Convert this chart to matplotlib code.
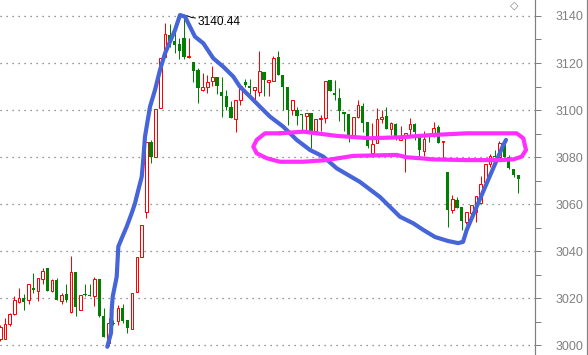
import matplotlib
matplotlib.use("Agg")
import matplotlib.pyplot as plt
from matplotlib.lines import Line2D
from matplotlib.ticker import MultipleLocator, FormatStrFormatter

plt.rcParams['font.family'] = ['Liberation Sans', 'DejaVu Sans']
plt.rcParams['lines.scale_dashes'] = False

opens = [
    3002.4, 3002.7, 3008.8, 3013.3, 3018.4, 3020.1, 3019.2, 3024.1, 3023.0, 3028.2,
    3032.6, 3023.0, 3027.5, 3018.7, 3021.6, 3014.1, 3031.2, 3015.0, 3021.8, 3021.3,
    3020.9, 3028.0, 3012.6, 3001.0, 3009.6, 3010.2, 3015.9, 3010.7, 3007.0, 3022.6,
    3037.6, 3056.6, 3086.5, 3080.2, 3100.7, 3122.4, 3131.9, 3129.4, 3128.0, 3130.5,
    3122.4, 3120.5, 3117.0, 3108.4, 3109.6, 3112.2, 3114.0, 3107.5, 3105.8, 3101.3,
    3096.2, 3104.1, 3111.8, 3110.4, 3108.4, 3107.7, 3116.0, 3111.9, 3112.2, 3122.6,
    3115.0, 3110.0, 3099.9, 3100.1, 3098.2, 3097.3, 3098.7, 3090.9, 3096.2, 3096.6,
    3112.9, 3107.2, 3105.1, 3099.2, 3098.4, 3089.2, 3097.1, 3101.7, 3095.0, 3081.6,
    3085.8, 3096.0, 3097.4, 3091.8, 3094.0, 3087.2, 3089.1, 3091.8, 3094.0, 3089.8,
    3082.7, 3089.8, 3089.8, 3092.9, 3086.6, 3073.8, 3057.5, 3061.7, 3058.9, 3052.5,
    3056.0, 3056.8, 3060.3, 3069.5, 3077.0, 3080.4, 3080.1, 3085.1, 3079.9, 3074.8,
    3072.3]

closes = [
    3007.8, 3009.0, 3013.3, 3019.4, 3019.9, 3018.3, 3026.2, 3023.3, 3028.7, 3031.6,
    3023.0, 3027.9, 3019.2, 3021.3, 3019.2, 3031.2, 3016.2, 3021.3, 3021.3, 3020.9,
    3028.0, 3012.4, 3003.4, 3009.5, 3009.0, 3015.9, 3010.2, 3007.4, 3022.3, 3037.6,
    3050.9, 3086.3, 3080.2, 3100.4, 3122.0, 3132.3, 3128.7, 3127.7, 3125.3, 3122.7,
    3123.0, 3116.8, 3109.2, 3109.6, 3111.9, 3114.0, 3110.4, 3105.8, 3101.3, 3096.5,
    3104.4, 3110.4, 3110.8, 3109.2, 3109.6, 3116.5, 3112.6, 3112.9, 3122.1, 3115.0,
    3110.0, 3099.9, 3104.1, 3097.6, 3098.0, 3098.7, 3090.9, 3096.2, 3096.6, 3112.5,
    3107.9, 3106.2, 3099.4, 3098.4, 3089.5, 3096.9, 3102.1, 3094.6, 3084.8, 3085.5,
    3096.0, 3096.9, 3091.8, 3094.6, 3088.9, 3087.9, 3090.1, 3094.0, 3090.8, 3083.0,
    3087.5, 3088.7, 3092.5, 3085.8, 3087.0, 3057.5, 3062.1, 3058.5, 3052.9, 3056.8,
    3059.6, 3063.4, 3068.5, 3077.0, 3080.4, 3079.9, 3085.8, 3080.1, 3075.2, 3072.3,
    3070.5]

highs = [
    3008.5, 3011.4, 3013.5, 3021.1, 3024.5, 3021.6, 3026.2, 3030.5, 3028.7, 3032.9,
    3032.6, 3028.2, 3028.4, 3022.0, 3025.8, 3037.9, 3031.2, 3021.3, 3026.2, 3025.8,
    3029.1, 3028.0, 3015.9, 3011.6, 3010.5, 3016.9, 3017.3, 3010.7, 3022.3, 3037.6,
    3050.9, 3086.3, 3087.2, 3100.4, 3122.0, 3137.2, 3136.6, 3133.3, 3130.5, 3140.44,
    3130.5, 3120.5, 3117.7, 3115.7, 3115.0, 3118.6, 3114.0, 3114.0, 3108.7, 3103.7,
    3104.4, 3110.4, 3113.2, 3113.0, 3109.6, 3125.0, 3116.0, 3112.9, 3123.1, 3125.0,
    3115.0, 3110.0, 3104.1, 3101.1, 3098.2, 3098.7, 3098.7, 3096.2, 3098.0, 3112.5,
    3112.9, 3112.9, 3109.4, 3099.2, 3098.4, 3096.9, 3104.1, 3103.1, 3095.0, 3094.3,
    3100.7, 3100.0, 3101.1, 3095.0, 3094.6, 3093.2, 3090.1, 3096.5, 3094.6, 3089.8,
    3091.2, 3090.0, 3095.0, 3093.6, 3087.0, 3073.8, 3063.8, 3063.1, 3058.9, 3056.8,
    3059.6, 3063.4, 3071.9, 3077.0, 3081.3, 3083.0, 3087.0, 3086.0, 3080.9, 3074.8,
    3072.3]

lows = [
    3001.8, 3002.5, 3008.3, 3013.0, 3018.0, 3014.9, 3017.6, 3022.3, 3018.7, 3025.8,
    3023.0, 3022.6, 3019.2, 3017.7, 3018.4, 3013.8, 3012.3, 3015.0, 3021.0, 3020.9,
    3016.6, 3012.1, 3003.4, 2999.6, 3008.5, 3008.4, 3009.5, 3005.3, 3007.0, 3022.6,
    3037.6, 3054.2, 3077.3, 3080.2, 3100.7, 3122.4, 3126.7, 3124.4, 3121.6, 3121.6,
    3122.0, 3112.0, 3102.8, 3108.0, 3107.2, 3110.1, 3106.8, 3097.0, 3099.9, 3096.5,
    3090.6, 3102.3, 3110.0, 3107.0, 3104.1, 3105.8, 3105.8, 3105.8, 3112.2, 3115.0,
    3100.1, 3093.5, 3097.7, 3093.5, 3091.4, 3090.9, 3083.8, 3090.9, 3090.9, 3094.5,
    3107.9, 3104.4, 3095.2, 3090.9, 3086.4, 3089.2, 3096.8, 3090.8, 3084.0, 3081.6,
    3085.8, 3094.3, 3091.8, 3089.4, 3087.2, 3087.2, 3073.8, 3089.4, 3087.2, 3079.9,
    3080.6, 3086.5, 3088.7, 3085.8, 3079.4, 3050.1, 3056.3, 3058.5, 3049.0, 3051.5,
    3052.5, 3052.5, 3060.3, 3069.5, 3075.9, 3079.9, 3080.1, 3080.0, 3074.8, 3071.6,
    3064.5]

y_ticks = [3000, 3020, 3040, 3060, 3080, 3100, 3120, 3140]
peak_label = "3140.44"
peak_index = 39
peak_value = 3140.44

# hand-drawn annotation strokes (candle index, price)
blue_x = [22.72, 23.51, 23.66, 23.87, 24.72, 25.06, 25.78, 26.84, 27.90, 28.60, 29.31,
          30.03, 30.30, 30.73, 31.79, 32.85, 33.91, 34.98, 36.04, 37.10, 38.16, 39.22,
          40.29, 41.35, 43.11, 45.23, 47.36, 49.48, 50.90, 53.03, 55.15, 57.27, 60.10,
          62.94, 65.77, 68.59, 71.44, 76.39, 80.63, 84.88, 87.71, 89.83, 92.31, 95.07,
          97.20, 98.26, 99.05, 101.17, 103.29, 105.42, 106.82, 107.39]
blue_y = [2999.3, 3005.2, 3015.0, 3020.6, 3029.1, 3041.9, 3045.4, 3050.4, 3056.1, 3060.3,
          3066.0, 3071.6, 3077.5, 3088.7, 3101.4, 3108.5, 3117.0, 3124.1, 3129.1, 3134.0,
          3140.4, 3139.7, 3135.4, 3131.2, 3128.4, 3122.0, 3118.4, 3114.2, 3109.9, 3105.7,
          3101.4, 3097.2, 3092.9, 3087.3, 3083.0, 3080.2, 3075.2, 3069.4, 3063.0, 3054.6,
          3051.8, 3049.0, 3046.0, 3044.3, 3043.4, 3043.9, 3049.0, 3058.9, 3068.8, 3078.7,
          3085.1, 3087.3]

pink_x = [59.40, 64.35, 71.44, 78.51, 84.88, 91.95, 99.05, 109.66, 111.06, 111.64, 110.73,
          108.94, 106.12, 99.05, 91.95, 89.13, 86.30, 84.18, 74.96, 69.31, 64.35, 59.40,
          56.57, 54.45, 53.73, 54.45, 56.21, 59.40]
pink_y = [3090.1, 3090.8, 3089.0, 3088.0, 3088.4, 3089.4, 3090.1, 3090.1, 3088.0, 3083.0,
          3080.2, 3079.0, 3078.7, 3078.7, 3079.0, 3079.5, 3079.9, 3080.9, 3080.5, 3078.7,
          3078.0, 3078.0, 3079.5, 3081.6, 3084.4, 3087.3, 3090.1, 3090.1]

RED = '#ff0000'
GREEN = '#008000'
GRAY = '#808080'
PX = 0.72  # one pixel in points at dpi 100

fig = plt.figure(figsize=(5.88, 3.55), dpi=100)
fig.patch.set_facecolor('white')
ax = fig.add_axes([0, 0, 535 / 588, 1])
ax.set_facecolor('white')
ax.set_xlim(-0.064, 113.55)
ax.set_ylim(2995.8, 3146.8)

for v in y_ticks:
    ax.axhline(v, color='#707070', lw=PX * 1.3, linestyle=(0, (PX * 1.2, 4.8 * PX)), zorder=1)

w = 0.56
for i, (o, h, l, c) in enumerate(zip(opens, highs, lows, closes)):
    top = max(o, c)
    bot = min(o, c)
    hgt = max(top - bot, 0.35)
    if c >= o:
        ax.vlines(i, top, h, color=RED, lw=PX, zorder=2)
        ax.vlines(i, l, bot, color=RED, lw=PX, zorder=2)
        ax.bar(i, hgt, bottom=bot, width=w, facecolor='white', edgecolor=RED,
               linewidth=PX, zorder=3)
    else:
        ax.vlines(i, l, h, color=GREEN, lw=PX, zorder=2)
        ax.bar(i, hgt, bottom=bot, width=w + 0.12, facecolor=GREEN, edgecolor='none',
               linewidth=0, zorder=3)

# peak label
ax.plot([peak_index + 0.05, peak_index + 0.9, peak_index + 1.5, peak_index + 2.4],
        [peak_value - 0.1, peak_value - 0.5, peak_value - 1.0, peak_value - 1.3],
        color='black', lw=PX, zorder=4)
ax.text(peak_index + 2.8, peak_value - 2.9, peak_label, fontsize=8.6, color='black',
        ha='left', va='center', zorder=6)

# hand-drawn strokes
ax.plot(blue_x, blue_y, color='#4565d8', lw=3.0, solid_capstyle='round',
        solid_joinstyle='round', zorder=5)
ax.plot(pink_x, pink_y, color='#ff30ff', lw=3.0, solid_capstyle='round',
        solid_joinstyle='round', zorder=5)

for s in ['top', 'left', 'bottom']:
    ax.spines[s].set_visible(False)
ax.spines['right'].set_color(GRAY)
ax.spines['right'].set_linewidth(PX * 1.2)
ax.set_xticks([])
ax.yaxis.tick_right()
ax.yaxis.set_major_locator(MultipleLocator(20))
ax.yaxis.set_minor_locator(MultipleLocator(10))
ax.yaxis.set_major_formatter(FormatStrFormatter('%d'))
ax.tick_params(axis='y', which='both', direction='out', length=4.3, width=PX,
               color=GRAY, labelcolor=GRAY, labelsize=9, pad=10.5)

fig.add_artist(Line2D([586.5 / 588, 586.5 / 588], [0, 1], color=GRAY, lw=PX * 1.2))
fig.text(514 / 588, 1 - 6 / 355, '◇', fontsize=8, color=GRAY, ha='center', va='center',
         family=['DejaVu Sans'])

fig.savefig('out.png', dpi=100, facecolor='white')
